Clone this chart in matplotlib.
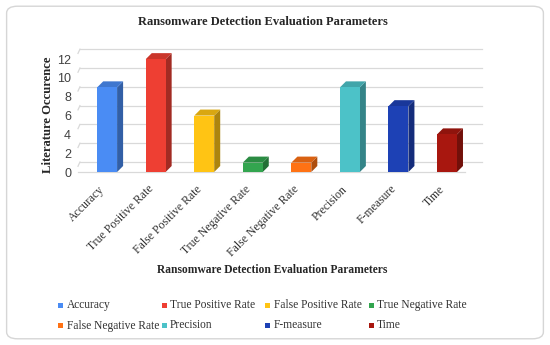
import numpy as np
import matplotlib
matplotlib.use("Agg")
import matplotlib.pyplot as plt
from matplotlib.patches import Polygon, Rectangle, FancyBboxPatch
from matplotlib.colors import to_rgb

# Data
categories = ["Accuracy", "True Positive Rate", "False Positive Rate", "True Negative Rate",
              "False Negative Rate", "Precision", "F-measure", "Time"]
occurrences = [9, 12, 6, 1, 1, 9, 7, 4]
y_ticks = [0, 2, 4, 6, 8, 10, 12]

colors = ["#4a8cf4", "#ee3f33", "#ffc414", "#33a54f", "#ff7214", "#4cc2c8", "#1d41b5", "#a8170f"]

title = "Ransomware Detection Evaluation Parameters"
serif = "Liberation Serif"
sans = "Liberation Sans"


def shade(c, f):
    r, g, b = to_rgb(c)
    return (r * f, g * f, b * f)


fig = plt.figure(figsize=(5.5, 3.45), dpi=100)

# rounded frame round the whole picture
frame = FancyBboxPatch((0.012, 0.018), 0.976, 0.964, boxstyle="round,pad=0,rounding_size=0.02",
                       transform=fig.transFigure, facecolor="none", edgecolor="#d6d6d6", lw=1.0,
                       zorder=-5)
fig.patches.append(frame)

ax = fig.add_axes([0.1418, 0.5014, 0.7345, 0.368])
ax.set_xlim(-0.6, 7.72)
ax.set_ylim(0, 13.5)
ax.patch.set_alpha(0)

# fake 3D depth (in data units)
dx, dy = 0.124, 0.64
wall_dx, wall_dy = 0.35, 1.06
w = 0.41

# back wall gridlines
for v in y_ticks:
    ax.plot([-0.56, 7.72], [v + wall_dy, v + wall_dy], color="#d9d9d9", lw=0.9, zorder=1, clip_on=False)
    ax.plot([-0.56, -0.6], [v + wall_dy, v + wall_dy - 0.45], color="#d9d9d9", lw=0.9, zorder=1, clip_on=False)
# floor front edge
ax.plot([-0.6, 7.72 - wall_dx], [0, 0], color="#d9d9d9", lw=0.9, zorder=1, clip_on=False)

x = np.arange(len(categories))
ax.bar(x, occurrences, width=w, color=colors, zorder=3, linewidth=0)
for xi, v, c in zip(x, occurrences, colors):
    l, r = xi - w / 2, xi + w / 2
    side = Polygon([[r, 0], [r + dx, dy], [r + dx, v + dy], [r, v]], closed=True,
                   facecolor=shade(c, 0.68), edgecolor="none", zorder=2)
    top = Polygon([[l, v], [r, v], [r + dx, v + dy], [l + dx, v + dy]], closed=True,
                  facecolor=shade(c, 0.85), edgecolor="none", zorder=2)
    ax.add_patch(side)
    ax.add_patch(top)

ax.set_yticks(y_ticks)
ax.set_yticklabels([str(t) for t in y_ticks], fontname=sans, fontsize=9, color="#404040")
ax.set_xticks(x)
ax.set_xticklabels(categories, rotation=45, ha="right", va="top", fontname=serif, fontsize=8.5,
                   color="#333333")
ax.tick_params(axis="both", length=0)
ax.tick_params(axis="y", pad=5)
ax.tick_params(axis="x", pad=8)
for s in ax.spines.values():
    s.set_visible(False)

fig.text(0.478, 0.936, title, ha="center", va="center", fontname=serif, fontsize=9,
         fontweight="bold", color="#262626")
fig.text(0.4945, 0.217, title, ha="center", va="center", fontname=serif, fontsize=8.3,
         fontweight="bold", color="#262626")
fig.text(0.087, 0.666, "Literature Occurence", ha="center", va="center", rotation=90,
         fontname=serif, fontsize=9.1, fontweight="bold", color="#262626")

# legend laid out in even columns, two rows of four
for i, (name, c) in enumerate(zip(categories, colors)):
    row, col = divmod(i, 4)
    lx = (58 + col * 103.5) / 550
    ly = 1 - (305 + row * 20.5) / 345
    fig.patches.append(Rectangle((lx, ly - 0.008), 0.0095, 0.015, transform=fig.transFigure,
                                 facecolor=c, edgecolor="none"))
    fig.text(lx + 0.0155, ly, name, ha="left", va="center", fontname=serif, fontsize=8.3,
             color="#333333")

fig.savefig("out.png", dpi=100)
